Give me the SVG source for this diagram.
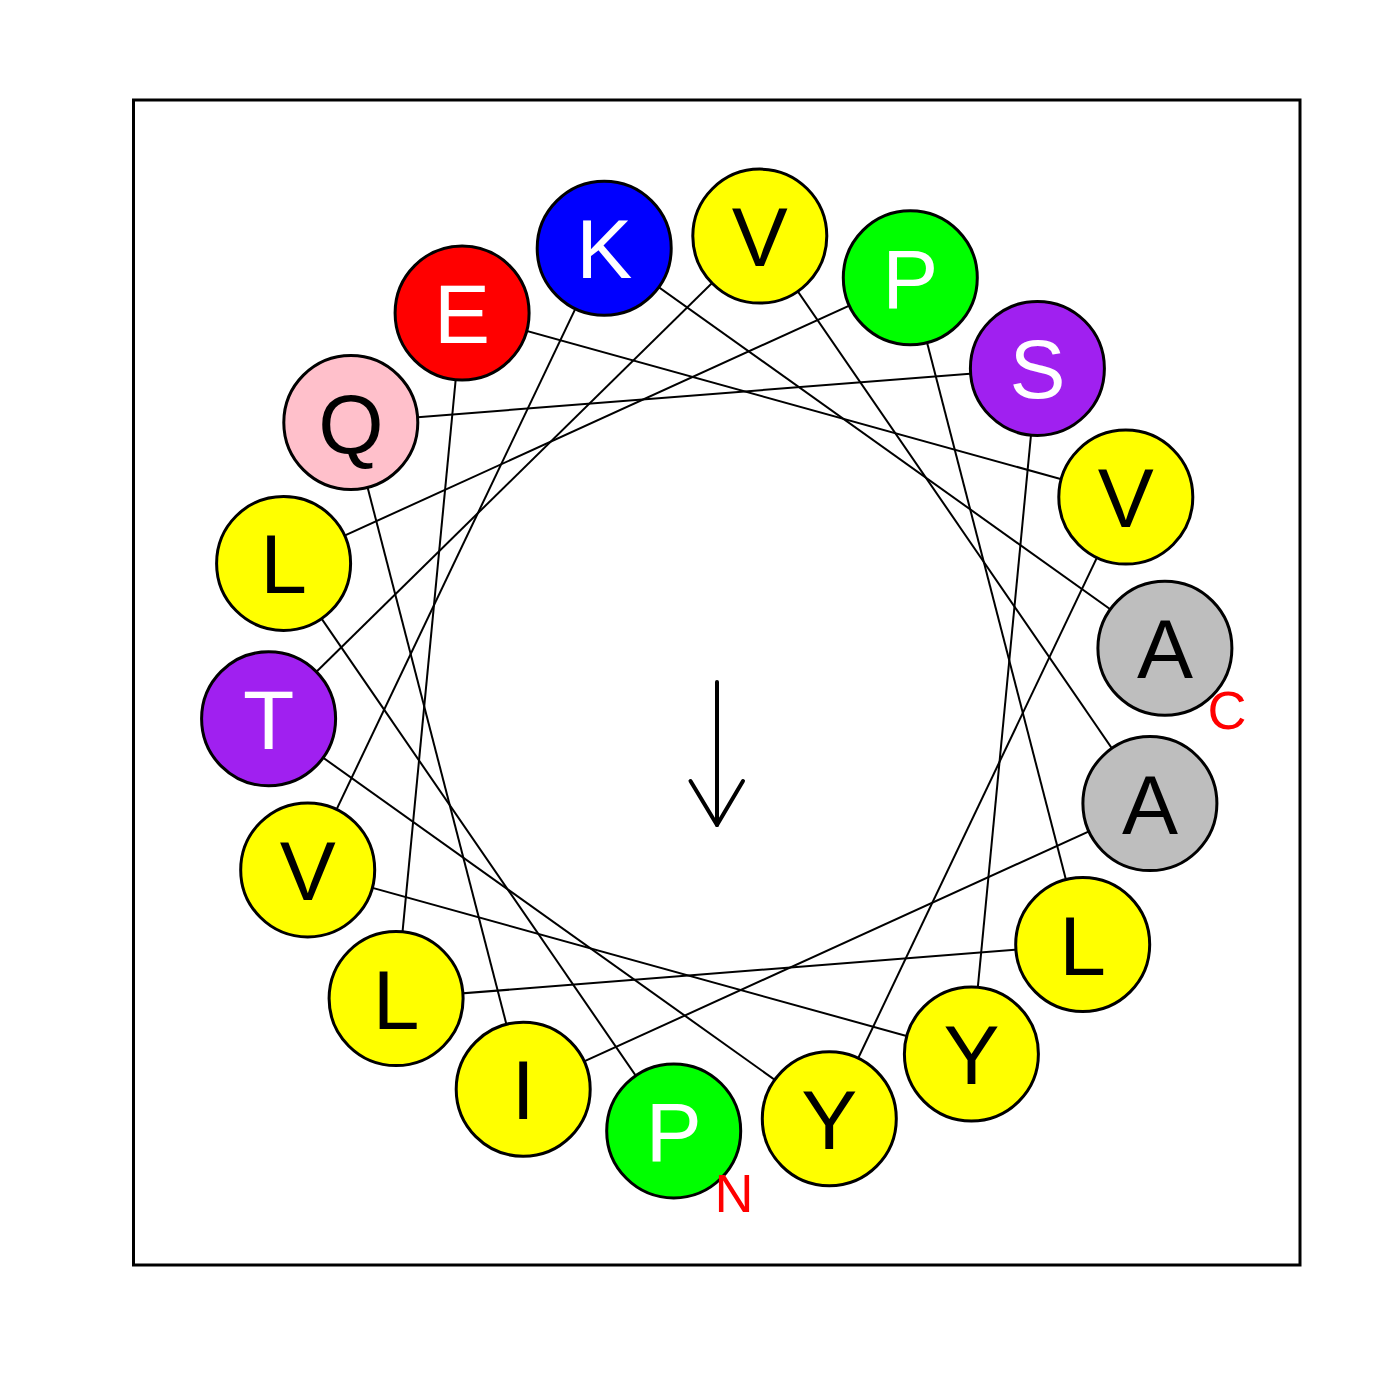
<svg xmlns="http://www.w3.org/2000/svg" width="1400" height="1400" viewBox="0 0 1400 1400">
<style>
.c{stroke:#000;stroke-width:3}
.t{font-family:"Liberation Sans",Arial,sans-serif;font-size:84px;text-anchor:middle}
.b{fill:#000}.w{fill:#fff}
.y{fill:#FFFF00}.g{fill:#00FF00}.bl{fill:#0000FF}.r{fill:#FF0000}.pk{fill:#FFC0CB}.pu{fill:#A020F0}.gr{fill:#BEBEBE}
.lab{font-family:"Liberation Sans",Arial,sans-serif;font-size:54px;fill:#FF0000;text-anchor:middle}
#connectors line{stroke:#000;stroke-width:2}
</style>
<rect x="0" y="0" width="1400" height="1400" fill="#fff"/>
<rect x="133.5" y="100" width="1166.5" height="1165" fill="none" stroke="#000" stroke-width="3"/>
<g id="connectors">
<line x1="673.7" y1="1130.9" x2="283.6" y2="563.4"/>
<line x1="283.6" y1="563.4" x2="910.3" y2="277.8"/>
<line x1="910.3" y1="277.8" x2="1082.7" y2="944.5"/>
<line x1="1082.7" y1="944.5" x2="396.1" y2="998.6"/>
<line x1="396.1" y1="998.6" x2="462.1" y2="313.0"/>
<line x1="462.1" y1="313.0" x2="1125.8" y2="497.1"/>
<line x1="1125.8" y1="497.1" x2="829.3" y2="1118.7"/>
<line x1="829.3" y1="1118.7" x2="268.6" y2="718.8"/>
<line x1="268.6" y1="718.8" x2="759.8" y2="236.1"/>
<line x1="759.8" y1="236.1" x2="1149.9" y2="803.6"/>
<line x1="1149.9" y1="803.6" x2="523.2" y2="1089.2"/>
<line x1="523.2" y1="1089.2" x2="350.8" y2="422.5"/>
<line x1="350.8" y1="422.5" x2="1037.4" y2="368.4"/>
<line x1="1037.4" y1="368.4" x2="971.4" y2="1054.0"/>
<line x1="971.4" y1="1054.0" x2="307.7" y2="869.9"/>
<line x1="307.7" y1="869.9" x2="604.2" y2="248.3"/>
<line x1="604.2" y1="248.3" x2="1164.9" y2="648.2"/>
</g>
<g id="n1"><circle class="c g" cx="673.7" cy="1130.9" r="67"/><text class="t w" x="673.7" y="1160.9">P</text></g>
<g id="n2"><circle class="c y" cx="283.6" cy="563.4" r="67"/><text class="t b" x="283.6" y="593.4">L</text></g>
<g id="n3"><circle class="c g" cx="910.3" cy="277.8" r="67"/><text class="t w" x="910.3" y="307.8">P</text></g>
<g id="n4"><circle class="c y" cx="1082.7" cy="944.5" r="67"/><text class="t b" x="1082.7" y="974.5">L</text></g>
<g id="n5"><circle class="c y" cx="396.1" cy="998.6" r="67"/><text class="t b" x="396.1" y="1028.6">L</text></g>
<g id="n6"><circle class="c r" cx="462.1" cy="313.0" r="67"/><text class="t w" x="462.1" y="343.0">E</text></g>
<g id="n7"><circle class="c y" cx="1125.8" cy="497.1" r="67"/><text class="t b" x="1125.8" y="527.1">V</text></g>
<g id="n8"><circle class="c y" cx="829.3" cy="1118.7" r="67"/><text class="t b" x="829.3" y="1148.7">Y</text></g>
<g id="n9"><circle class="c pu" cx="268.6" cy="718.8" r="67"/><text class="t w" x="268.6" y="748.8">T</text></g>
<g id="n10"><circle class="c y" cx="759.8" cy="236.1" r="67"/><text class="t b" x="759.8" y="266.1">V</text></g>
<g id="n11"><circle class="c gr" cx="1149.9" cy="803.6" r="67"/><text class="t b" x="1149.9" y="833.6">A</text></g>
<g id="n12"><circle class="c y" cx="523.2" cy="1089.2" r="67"/><text class="t b" x="523.2" y="1119.2">I</text></g>
<g id="n13"><circle class="c pk" cx="350.8" cy="422.5" r="67"/><text class="t b" x="350.8" y="452.5">Q</text></g>
<g id="n14"><circle class="c pu" cx="1037.4" cy="368.4" r="67"/><text class="t w" x="1037.4" y="398.4">S</text></g>
<g id="n15"><circle class="c y" cx="971.4" cy="1054.0" r="67"/><text class="t b" x="971.4" y="1084.0">Y</text></g>
<g id="n16"><circle class="c y" cx="307.7" cy="869.9" r="67"/><text class="t b" x="307.7" y="899.9">V</text></g>
<g id="n17"><circle class="c bl" cx="604.2" cy="248.3" r="67"/><text class="t w" x="604.2" y="278.3">K</text></g>
<g id="n18"><circle class="c gr" cx="1164.9" cy="648.2" r="67"/><text class="t b" x="1164.9" y="678.2">A</text></g>
<text class="lab" x="734" y="1212">N</text>
<text class="lab" x="1227" y="729">C</text>
<g id="arrow" stroke="#000" stroke-width="4" fill="none" stroke-linecap="round" stroke-linejoin="round">
<line x1="717" y1="682" x2="717" y2="825"/>
<polyline points="690.5,781 717,825 743,781"/>
</g>
</svg>
